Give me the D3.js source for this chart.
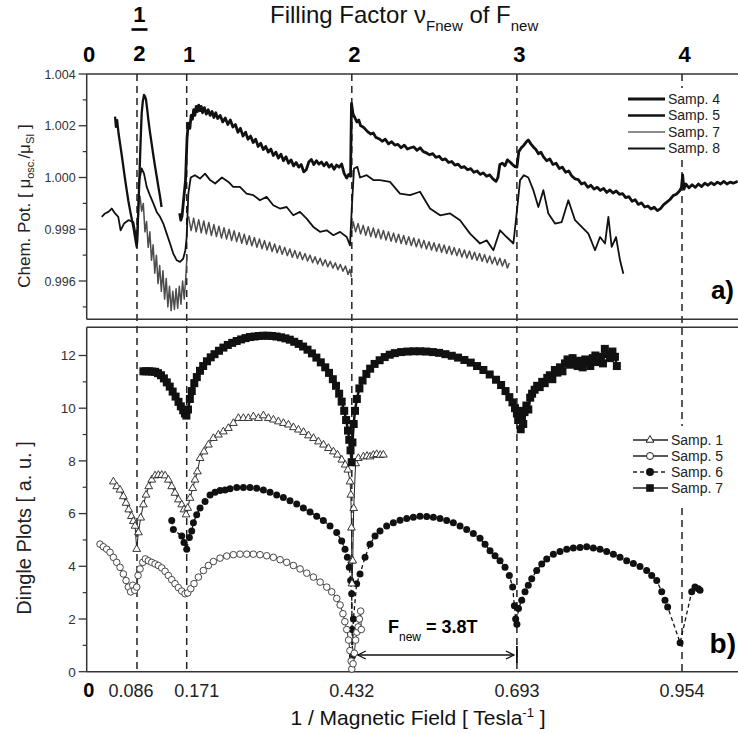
<!DOCTYPE html>
<html>
<head>
<meta charset="utf-8">
<script src="https://cdn.jsdelivr.net/npm/d3@7"></script>
<style>
  body { margin: 0; background: #fff; }
  svg { display: block; font-family: "Liberation Sans", Arial, sans-serif; }
</style>
</head>
<body>
<svg id="chart" width="738" height="734"></svg>
<script>
// ---- data: x = 1/B [1/T] ----
const guideValues = [0.086, 0.171, 0.432, 0.693, 0.954];
const bottomTicks = ['0.086', '0.171', '0.432', '0.693', '0.954'];
const topLabels = [['0', 0], ['1/2', 0.086], ['1', 0.171], ['2', 0.432], ['3', 0.693], ['4', 0.954]];
const chemTicks = [0.996, 0.998, 1.000, 1.002, 1.004];
const chemMinor = [0.995, 0.997, 0.999, 1.001, 1.003];
const dingleTicks = [0, 2, 4, 6, 8, 10, 12];
const dingleMinor = [1, 3, 5, 7, 9, 11];

// panel a : chemical potential
const chem4 = [
  [0.159,0.99862],[0.161,0.99835],[0.163,0.99850],[0.166,0.99920],[0.169,0.99990],[0.1715,1.00150],[0.1735,1.00210],
  [0.176,1.00190],[0.178,1.00240],[0.180,1.00225],[0.182,1.00262],[0.184,1.00240],[0.186,1.00275],[0.188,1.00255],
  [0.190,1.00280],[0.192,1.00258],[0.194,1.00275],[0.196,1.00250],[0.199,1.00270],[0.202,1.00245],[0.205,1.00262],
  [0.208,1.00240],[0.211,1.00255],[0.214,1.00232],[0.217,1.00250],[0.220,1.00228],[0.224,1.00240],[0.228,1.00215],
  [0.232,1.00230],[0.236,1.00205],[0.240,1.00222],[0.244,1.00195],[0.248,1.00205],[0.252,1.00175],[0.256,1.00190],
  [0.260,1.00160],[0.264,1.00175],[0.268,1.00148],[0.272,1.00160],[0.276,1.00135],[0.280,1.00148],[0.284,1.00120],
  [0.288,1.00132],[0.292,1.00108],[0.296,1.00120],[0.300,1.00098],[0.304,1.00110],[0.308,1.00085],[0.312,1.00098],
  [0.316,1.00075],[0.320,1.00090],[0.324,1.00065],[0.328,1.00080],[0.332,1.00055],[0.336,1.00068],[0.340,1.00045],
  [0.344,1.00058],[0.348,1.00040],[0.352,1.00050],[0.356,1.00022],[0.360,1.00030],[0.364,1.00060],[0.368,1.00070],
  [0.372,1.00050],[0.376,1.00065],[0.380,1.00052],[0.384,1.00060],[0.388,1.00045],[0.392,1.00058],[0.396,1.00040],
  [0.400,1.00050],[0.404,1.00032],[0.408,1.00048],[0.412,1.00040],[0.416,1.00052],[0.420,1.00015],[0.424,0.99998],
  [0.427,1.00012],[0.430,1.00005],[0.4315,1.00286],[0.434,1.00245],[0.437,1.00230],[0.440,1.00215],[0.443,1.00222],
  [0.446,1.00200],[0.450,1.00195],[0.454,1.00185],[0.458,1.00175],[0.462,1.00168],[0.466,1.00172],[0.470,1.00155],
  [0.475,1.00150],[0.480,1.00140],[0.485,1.00148],[0.490,1.00130],[0.495,1.00138],[0.500,1.00125],[0.505,1.00128],
  [0.510,1.00115],[0.515,1.00125],[0.520,1.00110],[0.525,1.00115],[0.530,1.00118],[0.535,1.00105],[0.540,1.00115],
  [0.545,1.00100],[0.550,1.00095],[0.555,1.00088],[0.560,1.00092],[0.565,1.00078],[0.570,1.00082],[0.575,1.00068],
  [0.580,1.00072],[0.585,1.00058],[0.590,1.00062],[0.595,1.00048],[0.600,1.00052],[0.605,1.00038],[0.610,1.00042],
  [0.615,1.00030],[0.620,1.00034],[0.625,1.00020],[0.630,1.00025],[0.635,1.00012],[0.640,1.00018],[0.645,1.00005],
  [0.650,1.00010],[0.655,0.99995],[0.660,0.99985],[0.663,1.00000],[0.666,1.00050],[0.670,1.00055],[0.674,1.00045],
  [0.678,1.00068],[0.682,1.00060],[0.686,1.00050],[0.690,1.00042],[0.693,1.00040],[0.696,1.00100],[0.700,1.00115],
  [0.704,1.00125],[0.708,1.00138],[0.711,1.00145],[0.715,1.00130],[0.719,1.00118],[0.723,1.00108],[0.727,1.00092],
  [0.731,1.00098],[0.735,1.00080],[0.740,1.00065],[0.745,1.00072],[0.750,1.00050],[0.755,1.00055],[0.760,1.00035],
  [0.765,1.00040],[0.770,1.00020],[0.775,1.00025],[0.780,1.00005],[0.785,0.99995],[0.790,0.99992],[0.795,0.99975],
  [0.800,0.99980],[0.805,0.99962],[0.810,0.99970],[0.815,0.99955],[0.820,0.99962],[0.825,0.99950],[0.830,0.99958],
  [0.835,0.99942],[0.840,0.99952],[0.845,0.99940],[0.850,0.99948],[0.855,0.99935],[0.860,0.99938],[0.865,0.99922],
  [0.870,0.99926],[0.875,0.99908],[0.880,0.99914],[0.885,0.99896],[0.890,0.99902],[0.895,0.99886],[0.900,0.99890],
  [0.905,0.99878],[0.910,0.99885],[0.915,0.99872],[0.920,0.99880],[0.925,0.99895],[0.930,0.99905],[0.935,0.99915],
  [0.940,0.99930],[0.945,0.99935],[0.950,0.99948],[0.953,0.99960],[0.955,1.00010],[0.957,0.99955],[0.960,0.99975],
  [0.965,0.99960],[0.970,0.99972],[0.975,0.99962],[0.980,0.99975],[0.985,0.99965],[0.990,0.99978],[0.995,0.99970],
  [1.000,0.99980],[1.005,0.99972],[1.010,0.99982],[1.015,0.99975],[1.020,0.99985],[1.025,0.99975],[1.030,0.99982],
  [1.035,0.99978],[1.042,0.99985]
];
const chem5 = [
  [0.0257,0.99848],[0.0314,0.99861],[0.0370,0.99867],[0.0428,0.99880],[0.0485,0.99861],[0.0540,0.99848],[0.0580,0.99796],
  [0.0638,0.99822],[0.0713,0.99835],[0.0798,0.99828],[0.0844,0.99770],[0.0866,0.99745],[0.0900,0.99990],[0.0940,1.00035],
  [0.0980,1.00015],[0.1026,0.99964],[0.1080,0.99932],[0.1140,0.99900],[0.1197,0.99867],[0.1254,0.99848],[0.1310,0.99822],
  [0.1368,0.99783],[0.1425,0.99745],[0.1480,0.99706],[0.1540,0.99680],[0.1596,0.99674],[0.1650,0.99686],[0.1687,0.99719],
  [0.1710,0.99770],[0.1736,0.99938],[0.1774,1.00000],[0.1840,1.00009],[0.1920,0.99996],[0.2000,1.00015],[0.2080,0.99990],
  [0.2160,0.99977],[0.2267,1.00000],[0.2370,0.99983],[0.2445,0.99964],[0.2551,0.99964],[0.2656,0.99938],[0.2762,0.99932],
  [0.2867,0.99912],[0.2973,0.99925],[0.3078,0.99893],[0.3184,0.99880],[0.3290,0.99886],[0.3395,0.99854],[0.3500,0.99867],
  [0.3606,0.99841],[0.3712,0.99809],[0.3817,0.99790],[0.3923,0.99796],[0.4029,0.99777],[0.4134,0.99790],[0.4240,0.99770],
  [0.4292,0.99738],[0.4318,0.99874],[0.4355,1.00035],[0.4408,1.00041],[0.4450,1.00000],[0.4556,1.00009],[0.4660,0.99990],
  [0.4766,0.99990],[0.4924,0.99983],[0.5082,0.99938],[0.5240,0.99932],[0.5398,0.99945],[0.5556,0.99880],[0.5715,0.99854],
  [0.5873,0.99861],[0.6031,0.99835],[0.6189,0.99783],[0.6347,0.99745],[0.6452,0.99757],[0.6558,0.99719],[0.6663,0.99796],
  [0.6768,0.99770],[0.6874,0.99745],[0.6926,0.99861],[0.6980,0.99990],[0.7042,1.00009],[0.7110,1.00000],[0.7190,0.99951],
  [0.7269,0.99886],[0.7348,0.99951],[0.7427,0.99861],[0.7532,0.99822],[0.7638,0.99828],[0.7743,0.99912],[0.7849,0.99835],
  [0.7954,0.99809],[0.8060,0.99783],[0.8165,0.99719],[0.8244,0.99770],[0.8323,0.99745],[0.8376,0.99848],[0.8428,0.99732],
  [0.8497,0.99770],[0.8560,0.99680],[0.8613,0.99628]
];
const chem7a = [
  [0.0910,0.99930],[0.0940,0.99870],[0.0968,0.99900],[0.0996,0.99790],[0.1024,0.99830],[0.1052,0.99730],[0.1080,0.99790],
  [0.1108,0.99680],[0.1136,0.99740],[0.1164,0.99630],[0.1192,0.99700],[0.1220,0.99590],[0.1248,0.99660],[0.1276,0.99560],
  [0.1304,0.99640],[0.1332,0.99530],[0.1360,0.99610],[0.1388,0.99500],[0.1416,0.99580],[0.1444,0.99485],[0.1472,0.99560],
  [0.1500,0.99490],[0.1528,0.99570],[0.1556,0.99495],[0.1584,0.99580],[0.1612,0.99510],[0.1640,0.99600],[0.1668,0.99530],
  [0.1696,0.99620],[0.1715,0.99700]
];
const chem7b = [
  [0.174,0.99850],[0.178,0.99795],[0.182,0.99843],[0.186,0.99790],[0.190,0.99837],[0.194,0.99786],[0.198,0.99832],
  [0.202,0.99782],[0.206,0.99826],[0.210,0.99776],[0.214,0.99818],[0.218,0.99772],[0.222,0.99812],[0.226,0.99766],
  [0.230,0.99806],[0.234,0.99762],[0.238,0.99800],[0.242,0.99756],[0.246,0.99794],[0.250,0.99752],[0.254,0.99787],
  [0.258,0.99746],[0.262,0.99781],[0.266,0.99741],[0.270,0.99775],[0.274,0.99736],[0.278,0.99768],[0.282,0.99730],
  [0.286,0.99762],[0.290,0.99725],[0.294,0.99756],[0.298,0.99720],[0.302,0.99750],[0.306,0.99714],[0.310,0.99743],
  [0.314,0.99709],[0.318,0.99736],[0.322,0.99703],[0.326,0.99730],[0.330,0.99698],[0.334,0.99724],[0.338,0.99692],
  [0.342,0.99718],[0.346,0.99688],[0.350,0.99712],[0.354,0.99682],[0.358,0.99706],[0.362,0.99677],[0.366,0.99700],
  [0.370,0.99671],[0.374,0.99694],[0.378,0.99666],[0.382,0.99688],[0.386,0.99660],[0.390,0.99682],[0.394,0.99655],
  [0.398,0.99676],[0.402,0.99650],[0.406,0.99670],[0.410,0.99644],[0.414,0.99664],[0.418,0.99638],[0.422,0.99658],
  [0.426,0.99625],[0.429,0.99645],[0.4315,0.99615]
];
const chem7c = [
  [0.4325,0.99800],[0.434,0.99830],[0.438,0.99790],[0.442,0.99822],[0.446,0.99782],[0.450,0.99815],[0.454,0.99777],
  [0.458,0.99810],[0.462,0.99772],[0.466,0.99805],[0.470,0.99768],[0.474,0.99800],[0.478,0.99763],[0.482,0.99795],
  [0.486,0.99758],[0.490,0.99790],[0.494,0.99754],[0.498,0.99785],[0.502,0.99750],[0.506,0.99781],[0.510,0.99745],
  [0.514,0.99776],[0.518,0.99741],[0.522,0.99771],[0.526,0.99737],[0.530,0.99766],[0.534,0.99732],[0.538,0.99762],
  [0.542,0.99728],[0.546,0.99757],[0.550,0.99724],[0.554,0.99752],[0.558,0.99720],[0.562,0.99748],[0.566,0.99715],
  [0.570,0.99743],[0.574,0.99711],[0.578,0.99739],[0.582,0.99706],[0.586,0.99734],[0.590,0.99702],[0.594,0.99729],
  [0.598,0.99698],[0.602,0.99725],[0.606,0.99693],[0.610,0.99720],[0.614,0.99689],[0.618,0.99716],[0.622,0.99684],
  [0.626,0.99711],[0.630,0.99680],[0.634,0.99706],[0.638,0.99676],[0.642,0.99702],[0.646,0.99671],[0.650,0.99697],
  [0.654,0.99667],[0.658,0.99692],[0.662,0.99662],[0.666,0.99688],[0.670,0.99658],[0.674,0.99683],[0.678,0.99650],
  [0.681,0.99670]
];
const chem8 = [
  [0.0485,1.00235],[0.0500,1.00196],[0.0520,1.00222],[0.0545,1.00170],[0.0570,1.00132],[0.0600,1.00085],[0.0627,1.00041],
  [0.0655,0.99995],[0.0684,0.99951],[0.0712,0.99910],[0.0741,0.99874],[0.0770,0.99840],[0.0798,0.99809],[0.0826,0.99770],
  [0.0855,0.99732],[0.0880,0.99860],[0.0900,0.99990],[0.0920,1.00130],[0.0940,1.00248],[0.0960,1.00295],[0.0980,1.00319],
  [0.1000,1.00312],[0.1015,1.00300],[0.1035,1.00262],[0.1055,1.00222],[0.1080,1.00178],[0.1110,1.00132],[0.1140,1.00085],
  [0.1170,1.00041],[0.1200,1.00000],[0.1226,0.99964],[0.1255,0.99925],[0.1280,0.99886]
];

// panel b : Dingle plots
const dingle1 = [
  [0.0456,7.21],[0.0513,7.03],[0.0570,6.90],[0.0627,6.65],[0.0673,6.40],[0.0718,6.15],[0.0764,5.90],[0.0798,5.71],
  [0.0827,5.53],[0.0855,4.65],[0.0884,5.28],[0.0923,5.84],[0.0969,6.34],[0.1015,6.71],[0.1060,7.03],[0.1112,7.28],
  [0.1169,7.44],[0.1226,7.46],[0.1283,7.46],[0.1340,7.44],[0.1397,7.28],[0.1454,7.03],[0.1510,6.78],[0.1568,6.53],
  [0.1625,6.34],[0.1664,6.15],[0.1699,5.96],[0.1726,6.21],[0.1763,6.59],[0.1805,6.96],[0.1842,7.28],[0.1879,7.59],
  [0.1921,8.10],[0.1984,8.35],[0.2053,8.61],[0.2132,8.86],[0.2211,8.99],[0.2290,9.11],[0.2369,9.24],[0.2448,9.43],
  [0.2527,9.62],[0.2606,9.62],[0.2685,9.62],[0.2764,9.68],[0.2844,9.62],[0.2923,9.72],[0.3002,9.62],[0.3081,9.56],
  [0.3160,9.49],[0.3239,9.43],[0.3318,9.37],[0.3397,9.27],[0.3476,9.18],[0.3556,9.09],[0.3635,8.96],[0.3714,8.86],
  [0.3793,8.73],[0.3872,8.61],[0.3951,8.48],[0.4030,8.35],[0.4093,8.23],[0.4162,8.04],[0.4215,7.85],[0.4257,7.66],
  [0.4292,7.21],[0.4305,6.71],[0.4315,5.46],[0.4320,4.21],[0.4323,3.34],[0.4335,4.21],[0.4350,6.20],[0.4380,7.90],
  [0.4424,8.10],[0.4503,8.16],[0.4560,8.18],[0.4608,8.16],[0.4660,8.22],[0.4713,8.25],[0.4770,8.22],[0.4819,8.23]
];
const dingle5 = [
  [0.0228,4.84],[0.0285,4.74],[0.0342,4.65],[0.0399,4.53],[0.0456,4.34],[0.0513,4.15],[0.0570,3.96],[0.0627,3.71],
  [0.0673,3.46],[0.0712,3.21],[0.0752,3.03],[0.0787,3.28],[0.0821,3.09],[0.0855,3.21],[0.0878,3.65],[0.0912,3.90],
  [0.0958,4.15],[0.1003,4.28],[0.1055,4.21],[0.1112,4.15],[0.1169,4.09],[0.1226,4.03],[0.1283,3.94],[0.1340,3.81],
  [0.1397,3.65],[0.1454,3.49],[0.1510,3.34],[0.1568,3.19],[0.1625,3.06],[0.1682,2.96],[0.1726,2.99],[0.1774,3.15],
  [0.1826,3.34],[0.1895,3.59],[0.1974,3.84],[0.2053,4.03],[0.2132,4.18],[0.2237,4.31],[0.2343,4.39],[0.2448,4.44],
  [0.2553,4.46],[0.2659,4.46],[0.2764,4.46],[0.2869,4.44],[0.2975,4.40],[0.3080,4.34],[0.3186,4.25],[0.3291,4.15],
  [0.3397,4.03],[0.3502,3.90],[0.3608,3.74],[0.3713,3.59],[0.3819,3.40],[0.3924,3.21],[0.4003,3.03],[0.4082,2.78],
  [0.4135,2.53],[0.4180,2.20],[0.4210,1.90],[0.4240,1.60],[0.4270,1.20],[0.4290,0.80],[0.4310,0.40],[0.4320,0.10],
  [0.4340,0.30],[0.4360,0.70],[0.4380,1.20],[0.4400,1.50],[0.4420,1.70],[0.4440,2.00],[0.4460,2.30],[0.4470,1.60]
];
const dingle6 = [
  [0.1454,5.74],[0.1482,5.40],[0.1625,5.15],[0.1664,4.90],[0.1710,4.65],[0.1752,5.09],[0.1789,5.34],[0.1816,5.65],
  [0.1868,5.96],[0.1921,6.21],[0.2000,6.46],[0.2079,6.71],[0.2158,6.81],[0.2237,6.88],[0.2316,6.90],[0.2395,6.94],
  [0.2501,6.99],[0.2606,6.99],[0.2711,6.99],[0.2817,6.96],[0.2922,6.90],[0.3027,6.81],[0.3133,6.71],[0.3238,6.61],
  [0.3343,6.49],[0.3449,6.36],[0.3554,6.21],[0.3660,6.06],[0.3765,5.90],[0.3870,5.74],[0.3976,5.53],[0.4081,5.28],
  [0.4160,4.96],[0.4213,4.65],[0.4250,4.34],[0.4281,3.96],[0.4302,3.46],[0.4318,2.96],[0.4325,1.60],[0.4330,0.60],
  [0.4345,2.00],[0.4397,3.34],[0.4450,3.71],[0.4529,4.34],[0.4608,4.84],[0.4687,5.15],[0.4766,5.34],[0.4871,5.53],
  [0.4977,5.65],[0.5082,5.75],[0.5188,5.81],[0.5293,5.86],[0.5398,5.90],[0.5504,5.89],[0.5609,5.86],[0.5715,5.81],
  [0.5820,5.74],[0.5925,5.65],[0.6031,5.53],[0.6136,5.40],[0.6241,5.24],[0.6347,5.06],[0.6426,4.84],[0.6505,4.59],
  [0.6584,4.40],[0.6663,4.21],[0.6742,3.96],[0.6810,3.65],[0.6863,3.21],[0.6890,2.50],[0.6910,2.00],[0.6930,1.80],
  [0.6955,2.40],[0.7006,2.71],[0.7058,3.03],[0.7110,3.28],[0.7164,3.53],[0.7243,3.84],[0.7322,4.09],[0.7401,4.28],
  [0.7506,4.46],[0.7611,4.56],[0.7717,4.65],[0.7822,4.69],[0.7928,4.71],[0.8033,4.74],[0.8138,4.69],[0.8244,4.65],
  [0.8349,4.56],[0.8455,4.46],[0.8560,4.34],[0.8665,4.21],[0.8771,4.11],[0.8876,3.99],[0.8981,3.84],[0.9061,3.65],
  [0.9140,3.46],[0.9219,3.03],[0.9271,2.71],[0.9313,2.46],[0.9510,1.10],[0.9693,3.03],[0.9745,3.21],[0.9798,3.15],
  [0.9825,3.09]
];
const dingle7 = [
  [0.097,11.40],[0.102,11.40],[0.107,11.40],[0.112,11.39],[0.117,11.38],[0.122,11.33],[0.127,11.25],[0.132,11.13],
  [0.137,10.98],[0.142,10.82],[0.147,10.63],[0.152,10.44],[0.157,10.24],[0.161,10.07],[0.165,9.92],[0.168,9.80],
  [0.1705,9.72],[0.173,9.95],[0.176,10.35],[0.179,10.65],[0.183,10.95],[0.187,11.18],[0.192,11.42],[0.197,11.60],
  [0.203,11.78],[0.209,11.93],[0.215,12.05],[0.222,12.18],[0.229,12.30],[0.236,12.40],[0.243,12.48],[0.250,12.55],
  [0.257,12.61],[0.264,12.66],[0.271,12.70],[0.278,12.72],[0.285,12.74],[0.292,12.75],[0.299,12.75],[0.306,12.74],
  [0.313,12.72],[0.320,12.69],[0.327,12.65],[0.334,12.60],[0.341,12.52],[0.348,12.44],[0.355,12.34],[0.362,12.22],
  [0.369,12.08],[0.376,11.92],[0.383,11.74],[0.390,11.55],[0.396,11.34],[0.402,11.10],[0.407,10.85],[0.412,10.55],
  [0.416,10.25],[0.420,9.90],[0.423,9.55],[0.426,9.15],[0.428,8.80],[0.430,8.40],[0.4318,7.95],[0.433,8.70],
  [0.435,9.40],[0.437,9.90],[0.440,10.35],[0.444,10.75],[0.449,11.05],[0.455,11.30],[0.461,11.50],[0.468,11.68],
  [0.476,11.82],[0.484,11.94],[0.492,12.03],[0.500,12.09],[0.510,12.13],[0.520,12.15],[0.530,12.16],[0.540,12.16],
  [0.550,12.15],[0.560,12.13],[0.570,12.10],[0.580,12.05],[0.590,11.99],[0.600,11.92],[0.610,11.83],[0.620,11.73],
  [0.630,11.60],[0.640,11.45],[0.650,11.28],[0.660,11.08],[0.668,10.88],[0.675,10.65],[0.681,10.42],[0.686,10.22],
  [0.690,10.00],[0.693,9.80],[0.695,9.55],[0.697,9.90],[0.699,9.20],[0.701,9.60],[0.703,9.40],[0.705,9.85],
  [0.708,10.10],[0.711,9.95],[0.714,10.40],[0.717,10.55],[0.721,10.70],[0.725,10.85],[0.729,10.80],[0.733,11.00],
  [0.737,10.95],[0.741,11.15],[0.745,11.25],[0.749,11.10],[0.753,11.45],[0.757,11.35],[0.761,11.55],[0.765,11.40],
  [0.769,11.70],[0.773,11.85],[0.777,11.65],[0.781,11.90],[0.785,11.75],[0.789,11.60],[0.793,11.80],[0.797,11.55],
  [0.801,11.85],[0.805,11.75],[0.809,11.60],[0.813,11.90],[0.817,12.00],[0.821,11.75],[0.825,11.95],[0.829,11.70],
  [0.832,12.25],[0.836,12.05],[0.840,11.90],[0.844,12.15],[0.848,11.95],[0.851,11.60]
];

// ---- layout ----
const left = 86.7, right = 738;
const aTop = 74, aBottom = 319.3, bTop = 327.3, bBottom = 671.7;

const svg = d3.select('#chart');

// the printed 1/B axis is stretched below 0.171, so a two-piece linear scale
const x = d3.scaleLinear().domain([0, 0.171, 1.0425]).range([left, left + 100, right]);
const yA = d3.scaleLinear().domain([0.99452, 1.004]).range([aBottom, aTop]);
const yB = d3.scaleLinear().domain([0, 13.07]).range([bBottom, bTop]);

// dashed guide lines
const guides = svg.append('g').attr('stroke', '#222').attr('stroke-width', 1.5).attr('stroke-dasharray', '7,5');
guideValues.forEach(v => {
  const spans = v === 0.954 ? [[aTop, 88], [160, 426], [508, bBottom]] : [[aTop, bBottom]];
  spans.forEach(s => {
    guides.append('line').attr('x1', x(v)).attr('x2', x(v)).attr('y1', s[0]).attr('y2', s[1]);
  });
});

// frame
const frame = svg.append('g').attr('stroke', '#333').attr('stroke-width', 1.5).attr('fill', 'none');
[aTop, aBottom, bTop, bBottom].forEach(yy => {
  frame.append('line').attr('x1', left).attr('x2', right).attr('y1', yy).attr('y2', yy);
});
frame.append('line').attr('x1', left).attr('x2', left).attr('y1', aTop).attr('y2', aBottom);
frame.append('line').attr('x1', left).attr('x2', left).attr('y1', bTop).attr('y2', bBottom);

// y ticks
function yTicks(scale, majors, minors, fmt, fontSize) {
  const g = svg.append('g');
  majors.forEach(v => {
    g.append('line').attr('x1', left - 8).attr('x2', left).attr('y1', scale(v)).attr('y2', scale(v))
      .attr('stroke', '#333').attr('stroke-width', 1.3);
    g.append('text').attr('x', left - 11).attr('y', scale(v)).attr('dy', '0.36em')
      .attr('text-anchor', 'end').attr('font-size', fontSize).attr('fill', '#333').text(fmt(v));
  });
  minors.forEach(v => {
    g.append('line').attr('x1', left - 4).attr('x2', left).attr('y1', scale(v)).attr('y2', scale(v))
      .attr('stroke', '#333').attr('stroke-width', 1.2);
  });
}
yTicks(yA, chemTicks, chemMinor, d3.format('.3f'), 12.5);
yTicks(yB, dingleTicks, dingleMinor, d3.format('d'), 13.5);

// panel a curves
const lineA = d3.line().x(d => x(d[0])).y(d => yA(d[1]));
const curvesA = [
  { data: chem7a, stroke: '#4d4d4d', w: 1.5 },
  { data: chem7b, stroke: '#4d4d4d', w: 1.5 },
  { data: chem7c, stroke: '#4d4d4d', w: 1.5 },
  { data: chem5, stroke: '#111', w: 1.8 },
  { data: chem8, stroke: '#111', w: 2.3 },
  { data: chem4, stroke: '#111', w: 2.8 }
];
curvesA.forEach(c => {
  svg.append('path').datum(c.data).attr('d', lineA).attr('fill', 'none')
    .attr('stroke', c.stroke).attr('stroke-width', c.w).attr('stroke-linejoin', 'round');
});

// panel b curves
const lineB = d3.line().x(d => x(d[0])).y(d => yB(d[1]));
const tri = d3.symbol().type(d3.symbolTriangle).size(26);

function drawMarkers(data, kind) {
  const g = svg.append('g');
  const pts = g.selectAll('.m').data(data).join(kind === 'square' ? 'rect' : (kind === 'triangle' ? 'path' : 'circle'));
  if (kind === 'triangle') {
    pts.attr('d', tri).attr('transform', d => `translate(${x(d[0])},${yB(d[1])})`)
      .attr('fill', '#fff').attr('stroke', '#222').attr('stroke-width', 0.9);
  } else if (kind === 'open') {
    pts.attr('cx', d => x(d[0])).attr('cy', d => yB(d[1])).attr('r', 3.3)
      .attr('fill', '#fff').attr('stroke', '#333').attr('stroke-width', 0.9);
  } else if (kind === 'dot') {
    pts.attr('cx', d => x(d[0])).attr('cy', d => yB(d[1])).attr('r', 3.5).attr('fill', '#111');
  } else {
    pts.attr('x', d => x(d[0]) - 4).attr('y', d => yB(d[1]) - 4).attr('width', 8).attr('height', 8).attr('fill', '#111');
  }
}

svg.append('path').datum(dingle6).attr('d', lineB).attr('fill', 'none')
  .attr('stroke', '#111').attr('stroke-width', 1.3).attr('stroke-dasharray', '4,3');
drawMarkers(dingle6, 'dot');

svg.append('path').datum(dingle5).attr('d', lineB).attr('fill', 'none').attr('stroke', '#333').attr('stroke-width', 1);
drawMarkers(dingle5, 'open');

svg.append('path').datum(dingle1).attr('d', lineB).attr('fill', 'none').attr('stroke', '#222').attr('stroke-width', 1);
drawMarkers(dingle1, 'triangle');

svg.append('path').datum(dingle7).attr('d', lineB).attr('fill', 'none').attr('stroke', '#111').attr('stroke-width', 2.5);
drawMarkers(dingle7, 'square');

// legend a
const legA = [
  { name: 'Samp. 4', w: 3, c: '#111' },
  { name: 'Samp. 5', w: 2.4, c: '#111' },
  { name: 'Samp. 7', w: 1.5, c: '#666' },
  { name: 'Samp. 8', w: 2.2, c: '#111' }
];
legA.forEach((d, i) => {
  const yy = 99 + i * 16.5;
  svg.append('line').attr('x1', 628).attr('x2', 665).attr('y1', yy).attr('y2', yy)
    .attr('stroke', d.c).attr('stroke-width', d.w);
  svg.append('text').attr('x', 668).attr('y', yy).attr('dy', '0.35em').attr('font-size', 14)
    .attr('fill', '#222').text(d.name);
});

// legend b
const legB = [
  { name: 'Samp. 1', kind: 'triangle', dash: null },
  { name: 'Samp. 5', kind: 'open', dash: null },
  { name: 'Samp. 6', kind: 'dot', dash: '4,3' },
  { name: 'Samp. 7', kind: 'square', dash: null }
];
legB.forEach((d, i) => {
  const yy = 440 + i * 16;
  svg.append('line').attr('x1', 633).attr('x2', 668).attr('y1', yy).attr('y2', yy)
    .attr('stroke', '#222').attr('stroke-width', 1.3).attr('stroke-dasharray', d.dash);
  const cx = 650;
  if (d.kind === 'triangle') {
    svg.append('path').attr('d', tri).attr('transform', `translate(${cx},${yy})`)
      .attr('fill', '#fff').attr('stroke', '#222').attr('stroke-width', 1);
  } else if (d.kind === 'open') {
    svg.append('circle').attr('cx', cx).attr('cy', yy).attr('r', 3.5).attr('fill', '#fff').attr('stroke', '#222');
  } else if (d.kind === 'dot') {
    svg.append('circle').attr('cx', cx).attr('cy', yy).attr('r', 4).attr('fill', '#111');
  } else {
    svg.append('rect').attr('x', cx - 3.8).attr('y', yy - 3.8).attr('width', 7.6).attr('height', 7.6).attr('fill', '#111');
  }
  svg.append('text').attr('x', 671).attr('y', yy).attr('dy', '0.35em').attr('font-size', 14)
    .attr('fill', '#222').text(d.name);
});

// top filling-factor labels
topLabels.forEach(([t, v]) => {
  const cx = x(v) + 2.5;
  if (t === '1/2') {
    svg.append('text').attr('x', cx).attr('y', 22).attr('text-anchor', 'middle')
      .attr('font-size', 22).attr('font-weight', 'bold').text('1');
    svg.append('line').attr('x1', cx - 8).attr('x2', cx + 8).attr('y1', 29.5).attr('y2', 29.5)
      .attr('stroke', '#000').attr('stroke-width', 2.6);
    svg.append('text').attr('x', cx).attr('y', 61).attr('text-anchor', 'middle')
      .attr('font-size', 22).attr('font-weight', 'bold').text('2');
  } else {
    svg.append('text').attr('x', cx).attr('y', 62).attr('text-anchor', 'middle')
      .attr('font-size', 22).attr('font-weight', 'bold').text(t);
  }
});

// top title
const title = svg.append('text').attr('x', 270).attr('y', 23).attr('font-size', 24).attr('fill', '#111');
title.append('tspan').text('Filling Factor \u03BD');
title.append('tspan').attr('font-size', 15).attr('dy', 8).text('Fnew');
title.append('tspan').attr('dy', -8).text(' of F');
title.append('tspan').attr('font-size', 15).attr('dy', 8).text('new');

// bottom tick labels
const labelShift = { '0.086': -6, '0.171': 10 };
bottomTicks.forEach((t, i) => {
  svg.append('text').attr('x', x(guideValues[i]) + (labelShift[t] || 0)).attr('y', 697)
    .attr('text-anchor', 'middle').attr('font-size', 18).attr('fill', '#222').text(t);
});
svg.append('text').attr('x', x(0) + 2).attr('y', 697).attr('text-anchor', 'middle')
  .attr('font-size', 20).attr('font-weight', 'bold').text('0');

// x title
const xt = svg.append('text').attr('x', 418).attr('y', 725).attr('text-anchor', 'middle')
  .attr('font-size', 21).attr('fill', '#111');
xt.append('tspan').text('1 / Magnetic Field  [ Tesla');
xt.append('tspan').attr('font-size', 13).attr('dy', -8).text('-1');
xt.append('tspan').attr('dy', 8).text(' ]');

// y titles
const ya = svg.append('text').attr('transform', 'translate(30,206) rotate(-90)')
  .attr('text-anchor', 'middle').attr('font-size', 17).attr('fill', '#222');
ya.append('tspan').text('Chem. Pot.  [ \u03BC');
ya.append('tspan').attr('font-size', 11).attr('dy', 4).text('osc.');
ya.append('tspan').attr('dy', -4).text('/\u03BC');
ya.append('tspan').attr('font-size', 11).attr('dy', 4).text('SI');
ya.append('tspan').attr('dy', -4).text(' ]');

svg.append('text').attr('transform', 'translate(31,528) rotate(-90)')
  .attr('text-anchor', 'middle').attr('font-size', 20).attr('fill', '#222').text('Dingle Plots  [ a. u. ]');

// panel tags
svg.append('text').attr('x', 734).attr('y', 299).attr('text-anchor', 'end')
  .attr('font-size', 26).attr('font-weight', 'bold').text('a)');
svg.append('text').attr('x', 736).attr('y', 653).attr('text-anchor', 'end')
  .attr('font-size', 28).attr('font-weight', 'bold').text('b)');

// F_new period annotation
const ay = 655;
const ann = svg.append('g').attr('stroke', '#111').attr('stroke-width', 1.3).attr('fill', 'none');
ann.append('line').attr('x1', x(0.432) + 6).attr('x2', x(0.693) - 3).attr('y1', ay).attr('y2', ay);
ann.append('path').attr('d', `M${x(0.432) + 14},${ay - 4}L${x(0.432) + 6},${ay}L${x(0.432) + 14},${ay + 4}`);
ann.append('path').attr('d', `M${x(0.693) - 11},${ay - 4}L${x(0.693) - 3},${ay}L${x(0.693) - 11},${ay + 4}`);
ann.append('line').attr('x1', x(0.693)).attr('x2', x(0.693)).attr('y1', 646).attr('y2', 663).attr('stroke-width', 1.8);

const ft = svg.append('text').attr('x', 388).attr('y', 633).attr('font-size', 18).attr('font-weight', 'bold');
ft.append('tspan').text('F');
ft.append('tspan').attr('font-size', 12).attr('font-weight', 'normal').attr('dy', 8).text('new');
ft.append('tspan').attr('dy', -8).text(' = 3.8T');
</script>
</body>
</html>
